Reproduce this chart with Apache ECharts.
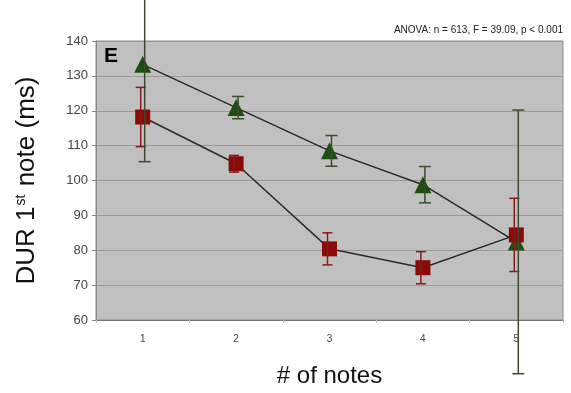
<!DOCTYPE html>
<html><head><meta charset="utf-8">
<script src="https://cdn.jsdelivr.net/npm/echarts@6/dist/echarts.min.js"></script>
<style>html,body{margin:0;padding:0;background:#fff}#c{width:571px;height:393px}</style>
</head><body><div id="c"></div>
<script>
var categories = ['1', '2', '3', '4', '5'];
var greenMean = [133.3, 120.9, 108.5, 98.8, 82.4];
var greenErr  = [27.9, 3.2, 4.4, 5.2, 37.8];
var redMean   = [118.2, 104.8, 80.4, 75.0, 84.4];
var redErr    = [8.5, 2.4, 4.6, 4.6, 10.5];
var yTicks = { min: 60, max: 140, interval: 10 };

function errItems(mean, err) {
  return mean.map(function (m, i) { return [i, m - err[i], m + err[i]]; });
}
function errRender(color, dx, cap) {
  return function (params, api) {
    var lo = api.coord([api.value(0), api.value(1)]);
    var hi = api.coord([api.value(0), api.value(2)]);
    var x = lo[0] + dx;
    var st = { stroke: color, lineWidth: 1.5 };
    return { type: 'group', children: [
      { type: 'line', shape: { x1: x, y1: lo[1], x2: x, y2: hi[1] }, style: st },
      { type: 'line', shape: { x1: x - cap, y1: lo[1], x2: x + cap, y2: lo[1] }, style: st },
      { type: 'line', shape: { x1: x - cap, y1: hi[1], x2: x + cap, y2: hi[1] }, style: st }
    ]};
  };
}

var chart = echarts.init(document.getElementById('c'));
chart.setOption({
  animation: false,
  backgroundColor: '#ffffff',
  grid: { left: 96, right: 8, top: 41, bottom: 71, show: true, backgroundColor: '#c0c0c0', borderColor: '#8a8a8a', borderWidth: 1 },
  title: { text: 'ANOVA: n = 613, F = 39.09, p < 0.001', right: 3, top: 20,
    textStyle: { fontFamily: 'Liberation Sans', fontSize: 10, fontWeight: 'normal', color: '#222' } },
  graphic: [
    { type: 'text', left: 104, top: 46, style: { text: 'E', fontFamily: 'Liberation Sans', fontSize: 21, fontWeight: 'bold', fill: '#000' } }
  ],
  xAxis: {
    type: 'category', data: categories, boundaryGap: true,
    name: '# of notes', nameLocation: 'middle', nameGap: 44,
    nameTextStyle: { fontFamily: 'Liberation Sans', fontSize: 24, color: '#111' },
    axisLine: { lineStyle: { color: '#777', width: 1 } },
    axisTick: { show: true, length: 3, lineStyle: { color: '#bbb' } },
    axisLabel: { fontFamily: 'Liberation Sans', fontSize: 10, color: '#444', margin: 14 },
    splitLine: { show: false }
  },
  yAxis: {
    type: 'value', min: yTicks.min, max: yTicks.max, interval: yTicks.interval,
    name: '{a|DUR 1}{s|st}{a| note (ms)}', nameLocation: 'middle', nameGap: 56, nameRotate: 90,
    nameTextStyle: { rich: {
      a: { fontFamily: 'Liberation Sans', fontSize: 26, color: '#111' },
      s: { fontFamily: 'Liberation Sans', fontSize: 14, color: '#111', verticalAlign: 'top', padding: [0, 1, 12, 1] }
    } },
    axisLine: { show: true, lineStyle: { color: '#888' } },
    axisTick: { show: true, length: 4, lineStyle: { color: '#888' } },
    axisLabel: { fontFamily: 'Liberation Sans', fontSize: 13, color: '#444', margin: 8 },
    splitLine: { show: true, lineStyle: { color: '#9a9a9a', width: 1 } }
  },
  series: [
    { type: 'line', data: greenMean, symbol: 'triangle', symbolSize: 17, z: 3,
      lineStyle: { color: '#2a2a2a', width: 1.5 }, itemStyle: { color: '#1e4d12' } },
    { type: 'line', data: redMean, symbol: 'rect', symbolSize: 15, z: 3,
      lineStyle: { color: '#2a2a2a', width: 1.5 }, itemStyle: { color: '#8a0a0a' } },
    { type: 'custom', clip: false, z: 5, data: errItems(redMean, redErr), renderItem: errRender('#8a1a1a', -2, 5) },
    { type: 'custom', clip: false, z: 6, data: errItems(greenMean, greenErr), renderItem: errRender('#3e4a2e', 2, 6) }
  ]
});
</script></body></html>
